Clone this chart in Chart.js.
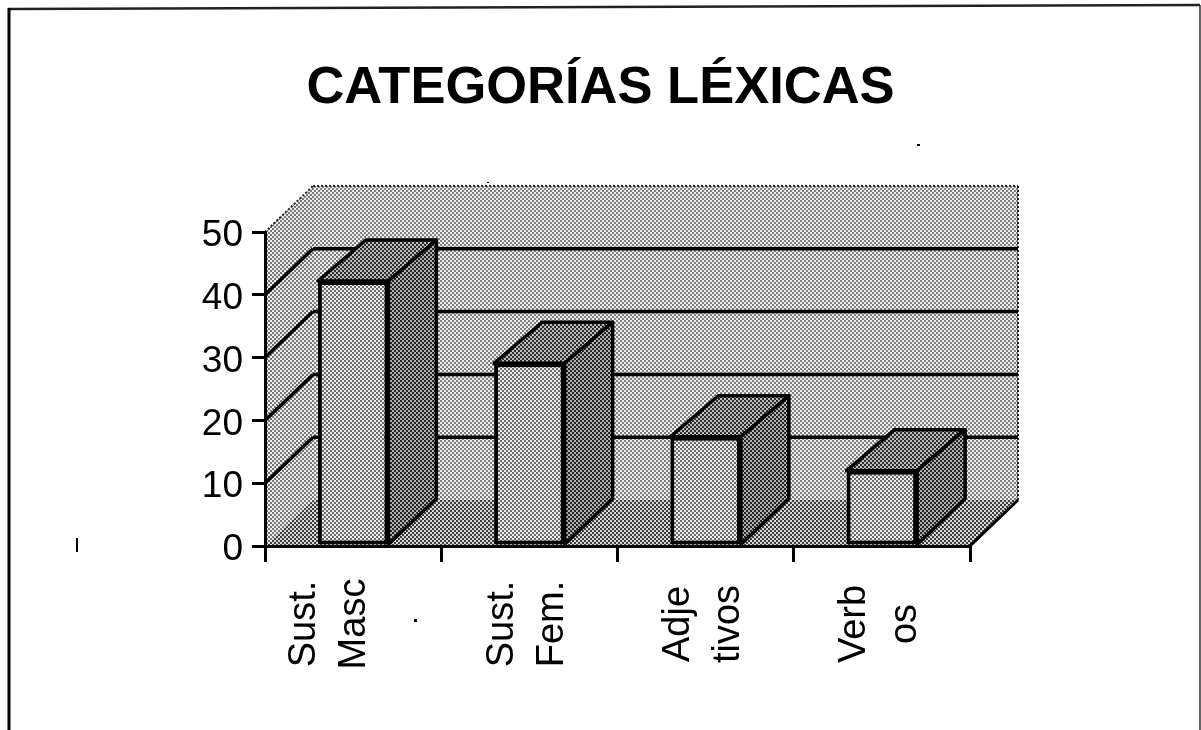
<!DOCTYPE html>
<html><head><meta charset="utf-8">
<style>html,body{margin:0;padding:0;background:#fff}canvas{display:block}</style>
<script src="https://cdn.jsdelivr.net/npm/chart.js@4"></script>
</head><body><canvas id="c" width="1201" height="730"></canvas>
<script>
const titleText = "CATEGORÍAS LÉXICAS";
const categories = [["Sust.","Masc"],["Sust.","Fem."],["Adje","tivos"],["Verb","os"]];
const values = [42.2, 29.1, 17.4, 12];
const yTicks = [0,10,20,30,40,50];

const FONT = "'Liberation Sans', Arial, sans-serif";
const DEPTH_X = 48, DEPTH_Y = 46, TOP_DEPTH_Y = 41;
const LABEL_CENTER_Y = 624, LABEL_OFFSET = -27, FIRST_LABEL_NUDGE = -22, Y_LABEL_NUDGE = 4;

function checker(dark, light){
  const t = document.createElement('canvas'); t.width = t.height = 4;
  const g = t.getContext('2d');
  g.fillStyle = light; g.fillRect(0,0,4,4);
  g.fillStyle = dark; g.fillRect(0,0,2,2); g.fillRect(2,2,2,2);
  return g.createPattern(t,'repeat');
}
const P = {
  back:checker('#808080','#eeeeee'), side:checker('#787878','#ececec'),
  floor:checker('#3c3c3c','#d8d8d8'), front:checker('#6c6c6c','#eeeeee'),
  top:checker('#2e2e2e','#bcbcbc'), right:checker('#262626','#b0b0b0')
};

function poly(ctx, pts, fill, stroke, lw){
  ctx.beginPath(); pts.forEach((p,i)=> i?ctx.lineTo(p[0],p[1]):ctx.moveTo(p[0],p[1])); ctx.closePath();
  if(fill){ctx.fillStyle=fill;ctx.fill();}
  if(stroke){ctx.strokeStyle=stroke;ctx.lineWidth=lw;ctx.lineJoin='round';ctx.stroke();}
}
function seg(ctx,a,b,c,d,lw,col,dash){ctx.setLineDash(dash||[]);ctx.beginPath();ctx.moveTo(a,b);ctx.lineTo(c,d);ctx.lineWidth=lw;ctx.strokeStyle=col||'#000';ctx.stroke();ctx.setLineDash([]);}

const box3d = {
  id:'box3d',
  beforeDraw(chart){
    const ctx = chart.ctx, a = chart.chartArea, y = chart.scales.y, x = chart.scales.x;
    chart.titleBlock.left = 0; chart.titleBlock.right = chart.width;
    ctx.save();
    // frame of the scanned page
    seg(ctx,8,9,1200,5,2.5,'#222');
    seg(ctx,9,8,9,730,3,'#000');
    seg(ctx,1200,5,1200,730,1.5,'#333');
    ctx.fillStyle='#000';
    ctx.fillRect(76,538,2,14); ctx.fillRect(414,619,3,3); ctx.fillRect(917,144,3,2); ctx.fillRect(487,182,2,1);
    const L=a.left,R=a.right,T=a.top,B=a.bottom;
    poly(ctx,[[L+DEPTH_X,T-DEPTH_Y],[R+DEPTH_X,T-DEPTH_Y],[R+DEPTH_X,B-DEPTH_Y],[L+DEPTH_X,B-DEPTH_Y]],P.back);
    poly(ctx,[[L,T],[L+DEPTH_X,T-DEPTH_Y],[L+DEPTH_X,B-DEPTH_Y],[L,B]],P.side);
    poly(ctx,[[L,B],[L+DEPTH_X,B-DEPTH_Y],[R+DEPTH_X,B-DEPTH_Y],[R,B]],P.floor);
    seg(ctx,L+DEPTH_X,T-DEPTH_Y,R+DEPTH_X,T-DEPTH_Y,2,'#222',[2,2]);
    seg(ctx,R+DEPTH_X,T-DEPTH_Y,R+DEPTH_X,B-DEPTH_Y,2,'#222',[2,2]);
    seg(ctx,L,T,L+DEPTH_X,T-DEPTH_Y,2,'#222',[2,2]);
    seg(ctx,R,B,R+DEPTH_X,B-DEPTH_Y,3,'#000');
    y.ticks.forEach(t=>{
      if(t.value===0||t.value===50) return;
      const py=y.getPixelForValue(t.value);
      seg(ctx,L,py,L+DEPTH_X,py-DEPTH_Y,3.5,'#000');
      seg(ctx,L+DEPTH_X,py-DEPTH_Y,R+DEPTH_X,py-DEPTH_Y,3.5,'#000');
    });
    ctx.restore();
    // category labels: centre each rotated block, as in the reference
    const items = x.getLabelItems();
    if(!items._placed){
      items.forEach((it,i)=>{
        it.options.textAlign='center';
        it.options.translation[1]=LABEL_CENTER_Y;
        if(i===0) it.options.translation[0]+=FIRST_LABEL_NUDGE;
      });
      items._placed=true;
    }
    const yItems = y.getLabelItems();
    if(!yItems._placed){
      yItems.forEach(it=>{it.options.translation[1]+=Y_LABEL_NUDGE;});
      yItems._placed=true;
    }
  },
  afterDatasetsDraw(chart){
    const ctx = chart.ctx;
    ctx.save();
    chart.getDatasetMeta(0).data.forEach(b=>{
      const l=b.x-b.width/2, r=b.x+b.width/2, t=b.y, bt=b.base;
      poly(ctx,[[l,t],[l+DEPTH_X,t-TOP_DEPTH_Y],[r+DEPTH_X,t-TOP_DEPTH_Y],[r,t]],P.top,'#000',3.5);
      poly(ctx,[[r,t],[r+DEPTH_X,t-TOP_DEPTH_Y],[r+DEPTH_X,bt-DEPTH_Y],[r,bt]],P.right,'#000',3.5);
    });
    ctx.restore();
  }
};

new Chart(document.getElementById('c'),{
  type:'bar',
  data:{labels:categories,datasets:[{data:values,backgroundColor:P.front,borderColor:'#000',borderWidth:4,borderSkipped:false,categoryPercentage:1,barPercentage:.4}]},
  plugins:[box3d],
  options:{
    responsive:false,animation:false,
    layout:{padding:{right:231}},
    plugins:{
      legend:{display:false},tooltip:{enabled:false},
      title:{display:true,text:titleText,color:'#000',font:{family:FONT,size:52.5,weight:'bold',lineHeight:1.2},padding:{top:57,bottom:112}}
    },
    scales:{
      x:{
        afterFit(s){s.height=184;},
        grid:{drawOnChartArea:false,color:'#000',tickLength:16,lineWidth:3},
        border:{color:'#000',width:3},
        ticks:{color:'#000',autoSkip:false,minRotation:90,maxRotation:90,labelOffset:LABEL_OFFSET,padding:12,font:{family:FONT,size:38,lineHeight:1.32}}
      },
      y:{
        min:0,max:50,
        afterFit(s){s.width=265;},
        afterBuildTicks(s){s.ticks=yTicks.map(v=>({value:v}));},
        grid:{drawOnChartArea:false,color:'#000',tickLength:13,lineWidth:3},
        border:{color:'#000',width:3},
        ticks:{color:'#000',padding:9,font:{family:FONT,size:37}}
      }
    }
  }
});
</script></body></html>
